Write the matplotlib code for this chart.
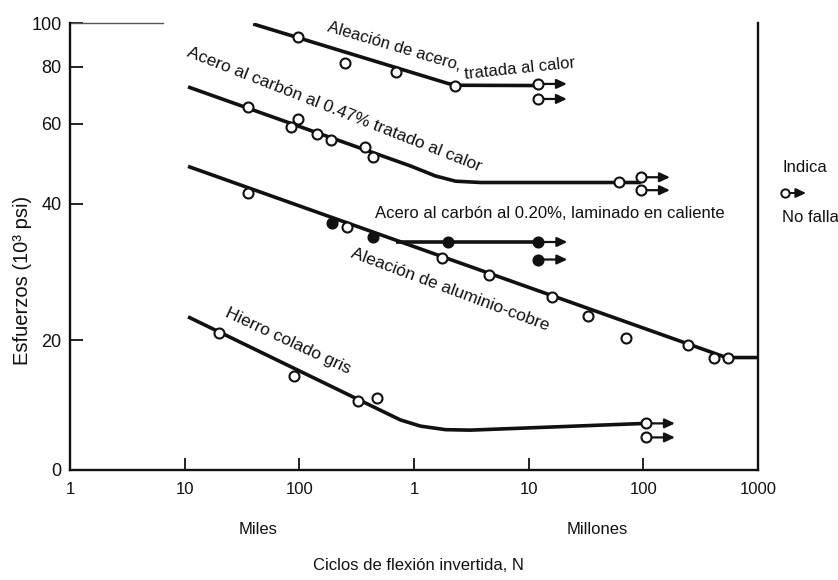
import matplotlib
matplotlib.use("Agg")
import matplotlib.pyplot as plt
from matplotlib.lines import Line2D
from matplotlib.ticker import NullLocator

NARROW = ["Liberation Sans Narrow", "Liberation Sans", "DejaVu Sans"]
REGULAR = ["Liberation Sans", "DejaVu Sans"]
plt.rcParams["font.family"] = NARROW

INK = "#111111"

# Axis ticks: reversed-bending cycles (log) and stress in 10^3 psi (log, bottom labelled 0)
x_ticks = [1e3, 1e4, 1e5, 1e6, 1e7, 1e8, 1e9]
x_tick_labels = ["1", "10", "100", "1", "10", "100", "1000"]
y_ticks = [10.34, 20, 40, 60, 80, 100]
y_tick_labels = ["0", "20", "40", "60", "80", "100"]

# Aleación de acero, tratada al calor
aleado_curve_N = [3.96e4, 2.0e6, 2.5e6, 1.2e7]
aleado_curve_S = [99.5, 73.5, 72.9, 72.8]
aleado_pts_N = [9.8e4, 2.52e5, 7.0e5, 2.26e6]
aleado_pts_S = [93.1, 81.6, 78.0, 72.8]
aleado_runout_N = [1.2e7, 1.2e7]
aleado_runout_S = [73.4, 68.0]

# Acero al carbón al 0.47%, tratado al calor
c47_curve_N = [1.07e4, 9.32e5, 1.54e6, 2.30e6, 3.81e6, 9.5e7]
c47_curve_S = [72.3, 48.4, 46.0, 44.8, 44.5, 44.5]
c47_pts_N = [3.59e4, 8.5e4, 9.8e4, 1.44e5, 1.87e5, 3.77e5, 4.38e5, 6.1e7]
c47_pts_S = [65.3, 59.0, 61.4, 56.9, 55.2, 53.3, 50.6, 44.5]
c47_runout_N = [9.5e7, 9.5e7]
c47_runout_S = [45.7, 42.8]

# Aleación de aluminio-cobre
alcu_curve_N = [1.07e4, 5.3e8, 1e9]
alcu_curve_S = [48.3, 18.3, 18.3]
alcu_pts_N = [3.59e4, 2.63e5, 1.77e6, 4.47e6, 1.59e7, 3.27e7, 7.0e7, 2.45e8, 4.13e8, 5.47e8]
alcu_pts_S = [42.2, 35.5, 30.3, 27.8, 24.9, 22.6, 20.2, 19.5, 18.3, 18.3]

# Acero al carbón al 0.20%, laminado en caliente (branches off the Al-Cu line)
c20_curve_N = [6.9e5, 1.21e7]
c20_curve_S = [32.9, 32.9]
c20_pts_N = [1.94e5, 4.38e5, 1.99e6]
c20_pts_S = [36.2, 33.7, 32.9]
c20_runout_N = [1.21e7, 1.21e7]
c20_runout_S = [32.9, 30.1]

# Hierro colado gris
hierro_curve_N = [1.07e4, 7.62e5, 1.14e6, 1.88e6, 3.11e6, 1.05e8]
hierro_curve_S = [22.5, 13.33, 12.92, 12.69, 12.66, 13.1]
hierro_pts_N = [2.0e4, 9.0e4, 3.27e5, 4.8e5]
hierro_pts_S = [20.7, 16.7, 14.7, 14.9]
hierro_runout_N = [1.05e8, 1.05e8]
hierro_runout_S = [13.1, 12.2]

W, H = 838, 580
fig = plt.figure(figsize=(W / 100, H / 100), dpi=100)
ax = fig.add_axes([70 / W, 1 - 470 / H, 688 / W, 447 / H])
ax.set_xscale("log")
ax.set_yscale("log")
ax.set_xlim(1e3, 1e9)
ax.set_ylim(10.34, 100)


def draw_curve(N, S):
    ax.plot(N, S, color=INK, lw=2.6, solid_joinstyle="round",
            solid_capstyle="butt", zorder=2)


def draw_points(N, S, filled=False):
    ax.plot(N, S, ls="none", marker="o", ms=7.2,
            mfc=INK if filled else "white", mec=INK, mew=1.5, zorder=4)


def draw_runouts(N, S, filled=False):
    for n, s in zip(N, S):
        ax.annotate("", xy=(n, s), xytext=(21, 0), textcoords="offset points",
                    arrowprops=dict(arrowstyle="<|-,head_length=0.6,head_width=0.28",
                                    color=INK, lw=1.6, shrinkA=0, shrinkB=4),
                    zorder=3)
    draw_points(N, S, filled)


draw_curve(aleado_curve_N, aleado_curve_S)
draw_points(aleado_pts_N, aleado_pts_S)
draw_runouts(aleado_runout_N, aleado_runout_S)

draw_curve(c47_curve_N, c47_curve_S)
draw_points(c47_pts_N, c47_pts_S)
draw_runouts(c47_runout_N, c47_runout_S)

draw_curve(alcu_curve_N, alcu_curve_S)
draw_curve(c20_curve_N, c20_curve_S)
draw_points(alcu_pts_N, alcu_pts_S)
draw_points(c20_pts_N, c20_pts_S, filled=True)
draw_runouts(c20_runout_N, c20_runout_S, filled=True)

draw_curve(hierro_curve_N, hierro_curve_S)
draw_points(hierro_pts_N, hierro_pts_S)
draw_runouts(hierro_runout_N, hierro_runout_S)

# Frame: open top except a short stub at the upper left
ax.spines["top"].set_visible(False)
for side in ("left", "bottom", "right"):
    ax.spines[side].set_linewidth(1.7)
    ax.spines[side].set_color(INK)
ax.plot([0, 0.135], [1, 1], transform=ax.transAxes, color="#555555",
        lw=1.0, clip_on=False)

ax.xaxis.set_minor_locator(NullLocator())
ax.yaxis.set_minor_locator(NullLocator())
ax.set_xticks(x_ticks, labels=x_tick_labels, fontsize=12, fontfamily=REGULAR)
ax.set_yticks(y_ticks, labels=y_tick_labels, fontsize=13, fontfamily=REGULAR)
ax.tick_params(axis="x", direction="in", length=9, width=1.3, pad=9, colors=INK)
ax.tick_params(axis="y", direction="in", length=9, width=1.3, pad=6, colors=INK)


def ftext(px, py, s, **kw):
    fig.text(px / W, 1 - py / H, s, ha="center", va="center",
             rotation_mode="anchor", color=INK, **kw)


# Curve labels
ftext(394, 46, "Aleación de acero,", fontsize=12, rotation=-16.5)
ftext(520, 69, "tratada al calor", fontsize=12, rotation=6)
ftext(334, 110, "Acero al carbón al 0.47% tratado al calor", fontsize=12.5, rotation=-21.5)
ftext(550, 214, "Acero al carbón al 0.20%, laminado en caliente", fontsize=12)
ftext(450, 290, "Aleación de aluminio-cobre", fontsize=12.5, rotation=-20.5)
ftext(288, 341, "Hierro colado gris", fontsize=12.5, rotation=-25)

# Axis titles and magnitude notes
ftext(22, 280, "Esfuerzos (10³ psi)", fontsize=14.5, rotation=90, fontfamily=REGULAR)
ftext(258, 530, "Miles", fontsize=12)
ftext(597, 530, "Millones", fontsize=12)
ftext(418, 566, "Ciclos de flexión invertida, N", fontsize=12)

# Key for run-out specimens
fig.text(782 / W, 1 - 167 / H, "Indica", ha="left", va="center", fontsize=12, color=INK)
fig.text(782 / W, 1 - 218 / H, "No falla", ha="left", va="center", fontsize=12, color=INK)
fig.add_artist(Line2D([785 / W], [1 - 193 / H], ls="none", marker="o", ms=6,
                      mfc="white", mec=INK, mew=1.4, zorder=5))
ax.annotate("", xy=(806 / W, 1 - 193 / H), xycoords="figure fraction",
            xytext=(789 / W, 1 - 193 / H), textcoords="figure fraction",
            arrowprops=dict(arrowstyle="-|>,head_length=0.6,head_width=0.28",
                            color=INK, lw=1.4, shrinkA=0, shrinkB=0))

fig.savefig("out.png", dpi=100, facecolor="white")
